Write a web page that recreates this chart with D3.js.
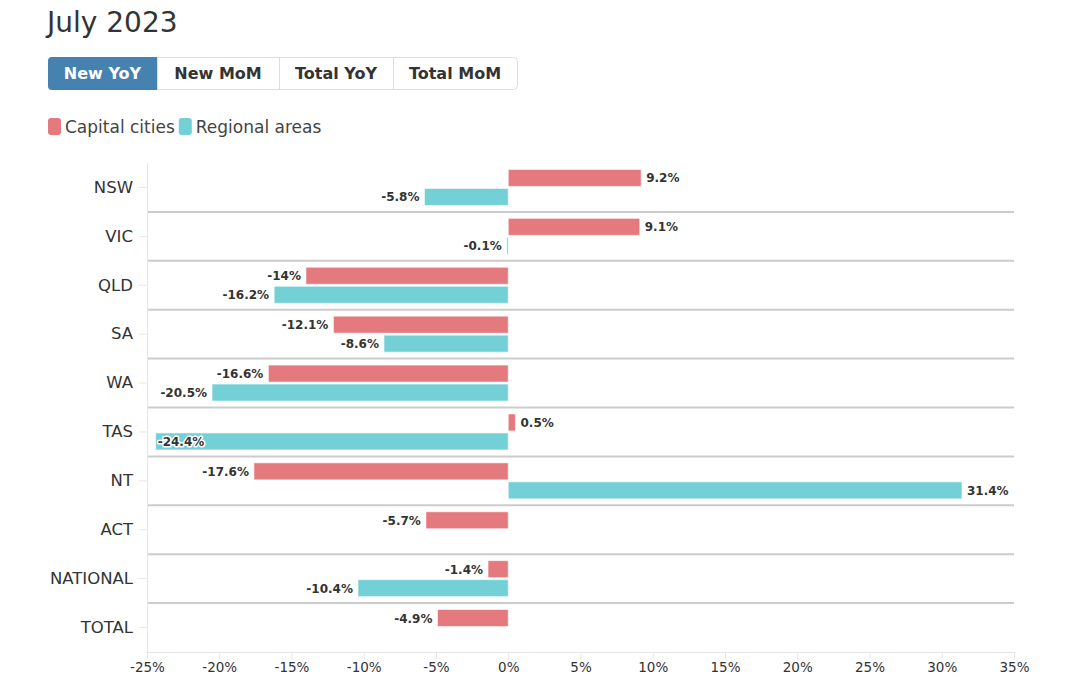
<!DOCTYPE html>
<html><head><meta charset="utf-8">
<script src="https://cdn.jsdelivr.net/npm/d3@7"></script>
<style>
body{margin:0;background:#fff;font-family:"DejaVu Sans",sans-serif;}
svg{display:block}
</style></head><body>
<svg id="c" width="1080" height="675"></svg>
<script>
const title = "July 2023";
const buttons = ["New YoY","New MoM","Total YoY","Total MoM"];
const categories = ["NSW","VIC","QLD","SA","WA","TAS","NT","ACT","NATIONAL","TOTAL"];
const seriesNames = ["Capital cities","Regional areas"];
const capital = [9.2, 9.1, -14, -12.1, -16.6, 0.5, -17.6, -5.7, -1.4, -4.9];
const regional = [-5.8, -0.1, -16.2, -8.6, -20.5, -24.4, 31.4, null, -10.4, null];
const xTicks = [-25,-20,-15,-10,-5,0,5,10,15,20,25,30,35];
const colors = ["#e47a7e","#73d0d6"];

(function(){
const svg = d3.select("#c");
const font = "'DejaVu Sans', sans-serif";

svg.append("text").attr("x",47).attr("y",32).text(title)
  .attr("font-family",font).attr("font-size",28).attr("fill","#333");

// buttons
const bx = [48,157,279,393,517];
const bg = svg.append("g");
bg.append("rect").attr("x",48.5).attr("y",57.5).attr("width",469).attr("height",32).attr("rx",4)
  .attr("fill","#fff").attr("stroke","#ddd");
buttons.forEach((b,i)=>{
  if(i===0){
    bg.append("path").attr("d",`M${bx[1]},57 L${bx[1]},90 L52,90 Q48,90 48,86 L48,61 Q48,57 52,57 Z`).attr("fill","#4682b0");
  } else {
    bg.append("line").attr("x1",bx[i]+0.5).attr("x2",bx[i]+0.5).attr("y1",58).attr("y2",89).attr("stroke","#ddd");
  }
  bg.append("text").attr("x",(bx[i]+bx[i+1])/2).attr("y",79).attr("text-anchor","middle")
    .attr("font-family",font).attr("font-weight","bold").attr("font-size",16)
    .attr("fill",i===0?"#fff":"#333").text(b);
});

// legend
const lg = svg.append("g");
let lx = 48;
seriesNames.forEach((s,i)=>{
  lg.append("rect").attr("x",lx).attr("y",118).attr("width",13).attr("height",17).attr("rx",3).attr("fill",colors[i]);
  const t = lg.append("text").attr("x",lx+17).attr("y",132.5).text(s)
    .attr("font-family",font).attr("font-size",17).attr("fill","#444");
  lx += 17 + t.node().getComputedTextLength() + 4;
});

// chart
const pL=147, pR=1014, pT=163, pB=652;
const x = d3.scaleLinear().domain([-25,35]).range([pL,pR]);
const y = d3.scaleBand().domain(categories).range([pT,pB]);
const bh = 17;

const g = svg.append("g");
categories.slice(1).forEach(c=>{
  g.append("line").attr("x1",pL).attr("x2",pR).attr("y1",y(c)).attr("y2",y(c))
    .attr("stroke","#ccc").attr("stroke-width",2);
});

const xa = svg.append("g").attr("transform",`translate(0,${pB})`)
  .call(d3.axisBottom(x).tickValues(xTicks).tickFormat(d=>d+"%").tickSize(7));
xa.select(".domain").attr("stroke","#e6e6e6");
xa.selectAll(".tick line").attr("stroke","#e6e6e6");
xa.selectAll("text").attr("font-family",font).attr("font-size",13.5).attr("fill","#333")
  .attr("y",19.5).attr("dy",0);

const ya = svg.append("g").attr("transform",`translate(${pL},0)`)
  .call(d3.axisLeft(y).tickSize(8).tickPadding(6));
ya.select(".domain").attr("stroke","#e6e6e6").attr("d",`M0.5,${pT}V${pB}`);
ya.selectAll(".tick line").attr("stroke","#e6e6e6");
ya.selectAll("text").attr("font-family",font).attr("font-size",16.5).attr("fill","#333");

const series = [capital, regional];
series.forEach((vals,si)=>{
  const data = categories.map((c,i)=>({c,v:vals[i]})).filter(d=>d.v!=null);
  const yy = d => y(d.c) + y.bandwidth()/2 + (si===0 ? -bh-1 : 1);
  g.selectAll(null).data(data).enter().append("rect")
    .attr("x",d=>x(Math.min(0,d.v))).attr("width",d=>Math.abs(x(d.v)-x(0)))
    .attr("y",yy).attr("height",bh).attr("fill",colors[si])
    .attr("stroke","rgba(255,255,255,0.6)").attr("stroke-width",1);
  g.selectAll(null).data(data).enter().append("text")
    .attr("x",d=> d.v>=0 ? x(d.v)+5 : x(d.v)-5)
    .attr("y",d=>yy(d)+bh/2+4.5)
    .attr("text-anchor",d=>d.v>=0?"start":"end")
    .attr("font-family",font).attr("font-weight","bold").attr("font-size",12)
    .attr("fill","#333").attr("paint-order","stroke").attr("stroke","#fff").attr("stroke-width",3)
    .attr("stroke-linejoin","round")
    .text(d=>d.v+"%")
    .each(function(d){
      const w=this.getComputedTextLength();
      if(d.v<0 && x(d.v)-5-w < pL){
        d3.select(this).attr("text-anchor","start").attr("x",x(d.v)+2);
      }
    });
});
})();
</script></body></html>
